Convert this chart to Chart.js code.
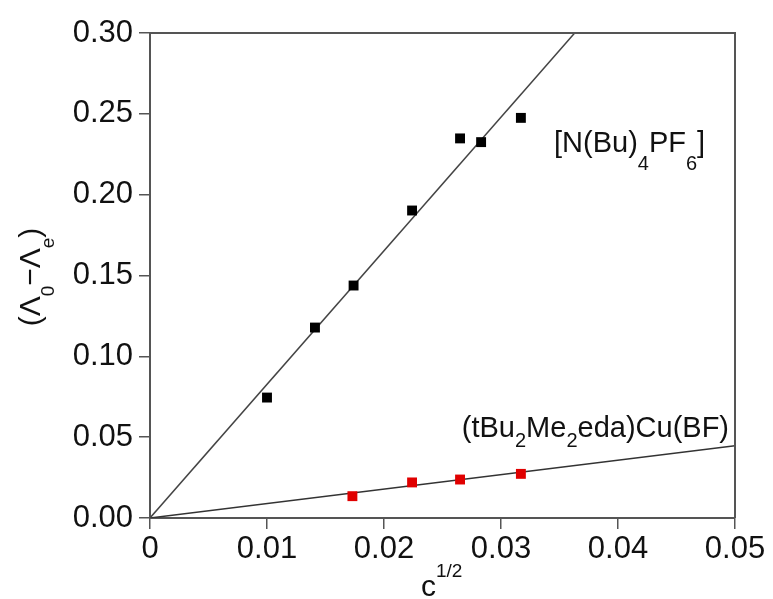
<!DOCTYPE html>
<html>
<head>
<meta charset="utf-8">
<script src="https://cdn.jsdelivr.net/npm/chart.js@4/dist/chart.umd.min.js"></script>
<style>
  html, body { margin: 0; padding: 0; background: #fff; }
  #wrap { width: 773px; height: 599px; }
</style>
</head>
<body>
<div id="wrap"><canvas id="c" width="773" height="599"></canvas></div>
<script>
// values
const blackX = [0.0100, 0.0141, 0.0174, 0.0224, 0.0265, 0.0283, 0.0317];
const blackY = [0.0745, 0.1178, 0.1438, 0.1902, 0.2348, 0.2325, 0.2475];
const redX = [0.0173, 0.0224, 0.0265, 0.0317];
const redY = [0.0135, 0.0220, 0.0238, 0.0273];
// fitted lines, end points
const blackFitX = [0, 0.0363];
const blackFitY = [0, 0.30];
const redFitX = [0, 0.05];
const redFitY = [0, 0.0447];

const xTicks = [0, 0.01, 0.02, 0.03, 0.04, 0.05];
const yTicks = [0, 0.05, 0.10, 0.15, 0.20, 0.25, 0.30];

const FONT = "Liberation Sans, Arial, Helvetica, sans-serif";
const AXIS = "#555";

const pts = (xs, ys) => xs.map((x, i) => ({ x, y: ys[i] }));

// draw text made of pieces, some lowered (sub) or raised (sup)
function richText(ctx, parts, x, y, align) {
  let total = 0;
  parts.forEach(p => {
    ctx.font = `${p.size}px ${FONT}`;
    p.w = ctx.measureText(p.t).width;
    total += p.w;
  });
  let cx = align === "right" ? x - total : align === "center" ? x - total / 2 : x;
  parts.forEach(p => {
    ctx.font = `${p.size}px ${FONT}`;
    ctx.fillText(p.t, cx, y + (p.dy || 0));
    cx += p.w;
  });
}

const labels = {
  id: "labels",
  afterDatasetsDraw(chart) {
    const { ctx, chartArea: a } = chart;
    ctx.save();
    // box top and right
    ctx.strokeStyle = AXIS;
    ctx.lineWidth = 2;
    ctx.beginPath();
    ctx.moveTo(a.left, a.top);
    ctx.lineTo(a.right, a.top);
    ctx.lineTo(a.right, a.bottom);
    ctx.stroke();

    ctx.fillStyle = "#111";
    ctx.textBaseline = "alphabetic";
    ctx.textAlign = "left";
    richText(ctx, [
      { t: "[N(Bu)", size: 29 },
      { t: "4", size: 20, dy: 18 },
      { t: "PF", size: 29 },
      { t: "6", size: 20, dy: 18 },
      { t: "]", size: 29 }
    ], 554, 152, "left");

    richText(ctx, [
      { t: "(tBu", size: 29 },
      { t: "2", size: 20, dy: 10 },
      { t: "Me", size: 29 },
      { t: "2", size: 20, dy: 10 },
      { t: "eda)Cu(BF)", size: 29 }
    ], 729, 437, "right");

    // x title
    richText(ctx, [
      { t: "c", size: 30 },
      { t: "1/2", size: 19, dy: -19 }
    ], 421, 596, "left");

    // y title
    ctx.translate(40, 277);
    ctx.rotate(-Math.PI / 2);
    richText(ctx, [
      { t: "(Λ", size: 30 },
      { t: "0", size: 19, dy: 14 },
      { t: "−Λ", size: 30 },
      { t: "e", size: 19, dy: 14 },
      { t: ")", size: 30 }
    ], 0, 0, "center");
    ctx.restore();
  }
};

new Chart(document.getElementById("c"), {
  type: "scatter",
  data: {
    datasets: [
      { data: pts(blackX, blackY), pointStyle: "rect", pointRadius: 7, pointHoverRadius: 7,
        backgroundColor: "#000", borderColor: "#000", borderWidth: 0 },
      { data: pts(redX, redY), pointStyle: "rect", pointRadius: 7, pointHoverRadius: 7,
        backgroundColor: "#e00000", borderColor: "#e00000", borderWidth: 0 },
      { data: pts(blackFitX, blackFitY), showLine: true, pointRadius: 0,
        borderColor: "#444", borderWidth: 1.5 },
      { data: pts(redFitX, redFitY), showLine: true, pointRadius: 0,
        borderColor: "#333", borderWidth: 1.5 }
    ]
  },
  options: {
    responsive: false,
    animation: false,
    layout: { padding: { left: 0, top: 33, right: 38, bottom: 0 } },
    plugins: { legend: { display: false }, tooltip: { enabled: false } },
    scales: {
      x: {
        type: "linear", min: 0, max: 0.05,
        afterBuildTicks: s => { s.ticks = xTicks.map(v => ({ value: v })); },
        afterFit: s => { s.height = 81; },
        ticks: {
          color: "#111", padding: 2,
          font: { family: FONT, size: 31 },
          callback: v => v === 0 ? "0" : v.toFixed(2)
        },
        grid: { drawOnChartArea: false, drawTicks: true, tickLength: 11, color: AXIS, lineWidth: 1.5 },
        border: { display: true, color: AXIS, width: 2 }
      },
      y: {
        type: "linear", min: 0, max: 0.30,
        afterBuildTicks: s => { s.ticks = yTicks.map(v => ({ value: v })); },
        afterFit: s => { s.width = 150; },
        ticks: {
          color: "#111", padding: 6,
          font: { family: FONT, size: 31 },
          callback: v => v.toFixed(2)
        },
        grid: { drawOnChartArea: false, drawTicks: true, tickLength: 11, color: AXIS, lineWidth: 1.5 },
        border: { display: true, color: AXIS, width: 2 }
      }
    }
  },
  plugins: [labels]
});
</script>
</body>
</html>
